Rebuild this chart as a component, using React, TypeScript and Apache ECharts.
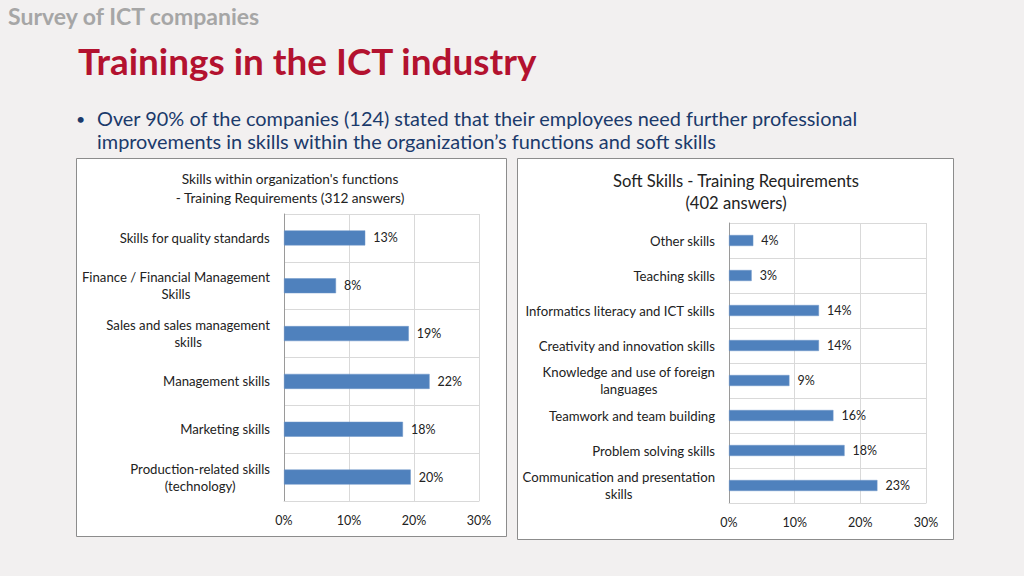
import React, { useEffect, useRef } from "react";
import * as echarts from "echarts";

const leftCategories = [
  "Skills for quality standards",
  "Finance / Financial Management\nSkills",
  "Sales and sales management\nskills",
  "Management skills",
  "Marketing skills",
  "Production-related skills\n(technology)",
];
const leftValues = [12.5, 8.0, 19.2, 22.4, 18.3, 19.5];

const rightCategories = [
  "Other skills",
  "Teaching skills",
  "Informatics literacy and ICT skills",
  "Creativity and innovation skills",
  "Knowledge and use of foreign\nlanguages",
  "Teamwork and team building",
  "Problem solving skills",
  "Communication and presentation\nskills",
];
const rightValues = [3.7, 3.45, 13.7, 13.7, 9.2, 15.9, 17.6, 22.6];

const xTicks = [0, 10, 20, 30];

const FONT = "Lato, 'Open Sans', sans-serif";
const BAR = "#4f81bd";
const GRIDC = "#d9d9d9";
const TXT = "#222222";
const CAT_SIZE = 13.2;

function centeredLines(v: string) {
  return v
    .split("\n")
    .map((l) => `{c|${l}}`)
    .join("\n");
}

export default function App() {
  const ref = useRef<HTMLDivElement>(null);
  useEffect(() => {
    document.body.style.margin = "0";
    if (!ref.current) return;
    const chart = echarts.init(ref.current, undefined, { renderer: "svg" });
    const xAxisBase = (gridIndex: number) => ({
      type: "value" as const,
      gridIndex,
      min: xTicks[0],
      max: xTicks[xTicks.length - 1],
      interval: 10,
      axisLine: { show: true, lineStyle: { color: GRIDC } },
      axisTick: { show: false },
      splitLine: { show: true, lineStyle: { color: GRIDC, width: 1 } },
      axisLabel: {
        formatter: "{value}%",
        fontFamily: FONT,
        fontSize: 12.5,
        color: TXT,
        margin: 13,
      },
    });
    const yAxisBase = (gridIndex: number, data: string[]) => ({
      type: "category" as const,
      gridIndex,
      data,
      inverse: true,
      axisLine: { show: true, lineStyle: { color: "#9a9a9a" } },
      axisTick: { show: false },
      splitLine: { show: true, lineStyle: { color: GRIDC, width: 1 } },
      axisLabel: {
        formatter: (v: string) => centeredLines(v),
        fontFamily: FONT,
        fontSize: CAT_SIZE,
        color: TXT,
        margin: 14,
        lineHeight: 17,
        rich: {
          c: { align: "center", fontFamily: FONT, fontSize: CAT_SIZE, color: TXT, lineHeight: 17 },
        },
      },
    });
    const labelCfg = {
      show: true,
      position: "right" as const,
      distance: 8,
      formatter: (p: any) => `${Math.round(p.value)}%`,
      fontFamily: FONT,
      fontSize: 12.5,
      color: TXT,
    };
    chart.setOption({
      animation: false,
      backgroundColor: "#f2f0f0",
      textStyle: { fontFamily: FONT },
      grid: [
        { left: 284, top: 214, width: 195, height: 287, containLabel: false },
        { left: 729, top: 223, width: 197, height: 280, containLabel: false },
      ],
      xAxis: [xAxisBase(0), xAxisBase(1)],
      yAxis: [yAxisBase(0, leftCategories), yAxisBase(1, rightCategories)],
      series: [
        {
          type: "bar",
          xAxisIndex: 0,
          yAxisIndex: 0,
          data: leftValues,
          barWidth: 15,
          itemStyle: { color: BAR, borderColor: "#6f97c8", borderWidth: 0.5 },
          label: labelCfg,
        },
        {
          type: "bar",
          xAxisIndex: 1,
          yAxisIndex: 1,
          data: rightValues,
          barWidth: 11,
          itemStyle: { color: BAR, borderColor: "#6f97c8", borderWidth: 0.5 },
          label: labelCfg,
        },
      ],
      graphic: [
        {
          type: "rect",
          z: -10,
          shape: { x: 76.5, y: 158.5, width: 430, height: 378 },
          style: { fill: "#ffffff", stroke: "#8c8c8c", lineWidth: 1 },
        },
        {
          type: "rect",
          z: -10,
          shape: { x: 517.5, y: 158.5, width: 436, height: 381 },
          style: { fill: "#ffffff", stroke: "#8c8c8c", lineWidth: 1 },
        },
        {
          type: "text",
          x: 8,
          y: 16,
          style: {
            text: "Survey of ICT companies",
            font: `bold 23px ${FONT}`,
            fill: "#a6a6a6",
            verticalAlign: "middle",
            align: "left",
          },
        },
        {
          type: "text",
          x: 78,
          y: 61,
          style: {
            text: "Trainings in the ICT industry",
            font: `bold 36.9px ${FONT}`,
            fill: "#b3122f",
            verticalAlign: "middle",
            align: "left",
          },
        },
        {
          type: "text",
          x: 76,
          y: 118,
          style: {
            text: "•",
            font: `16px ${FONT}`,
            fill: "#1b3a6b",
            verticalAlign: "middle",
            align: "left",
          },
        },
        {
          type: "text",
          x: 97,
          y: 118,
          style: {
            text: "Over 90% of the companies (124) stated that their employees need further professional",
            font: `19.9px ${FONT}`,
            fill: "#1b3a6b",
            verticalAlign: "middle",
            align: "left",
          },
        },
        {
          type: "text",
          x: 97,
          y: 141,
          style: {
            text: "improvements in skills within the organization\u2019s functions and soft skills",
            font: `19.9px ${FONT}`,
            fill: "#1b3a6b",
            verticalAlign: "middle",
            align: "left",
          },
        },
        {
          type: "text",
          x: 290,
          y: 188,
          style: {
            text: "Skills within organization's functions\n- Training Requirements (312 answers)",
            font: `13.7px ${FONT}`,
            lineHeight: 19,
            fill: TXT,
            verticalAlign: "middle",
            align: "center",
          },
        },
        {
          type: "text",
          x: 736,
          y: 192,
          style: {
            text: "Soft Skills - Training Requirements\n(402 answers)",
            font: `16.6px ${FONT}`,
            lineHeight: 22,
            fill: TXT,
            verticalAlign: "middle",
            align: "center",
          },
        },
      ],
    });
    return () => chart.dispose();
  }, []);
  return <div ref={ref} style={{ width: 1024, height: 576 }} />;
}
